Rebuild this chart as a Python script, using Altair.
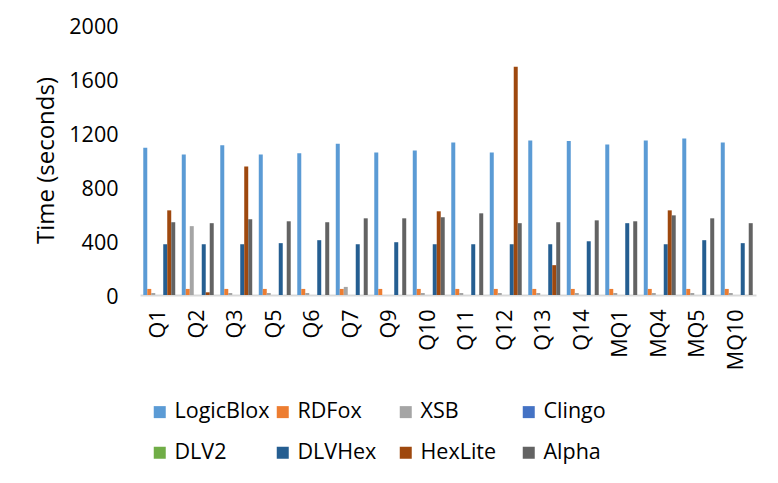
import altair as alt
import pandas as pd

queries = ["Q1", "Q2", "Q3", "Q5", "Q6", "Q7", "Q9", "Q10", "Q11", "Q12", "Q13", "Q14",
           "MQ1", "MQ4", "MQ5", "MQ10"]
systems = ["LogicBlox", "RDFox", "XSB", "Clingo", "DLV2", "DLVHex", "HexLite", "Alpha"]
colors = ["#5B9BD5", "#ED7D31", "#A5A5A5", "#4472C4", "#70AD47", "#255E91", "#9E480E", "#636363"]

logicblox = [1090, 1040, 1110, 1040, 1050, 1120, 1055, 1070, 1130, 1055, 1145, 1140, 1115, 1145, 1160, 1130]
rdfox = [45, 45, 45, 45, 45, 45, 45, 45, 45, 45, 45, 45, 45, 45, 45, 45]
xsb = [15, 510, 15, 15, 15, 60, 0, 15, 15, 15, 15, 15, 15, 15, 15, 15]
clingo = [0] * 16
dlv2 = [0] * 16
dlvhex = [376, 376, 376, 384, 406, 376, 391, 376, 376, 376, 376, 398, 532, 376, 406, 384]
hexlite = [627, 20, 952, 0, 0, 0, 0, 620, 0, 1690, 221, 0, 0, 627, 0, 0]
alpha = [539, 532, 561, 546, 539, 568, 568, 576, 605, 532, 539, 553, 546, 590, 568, 532]

series = [logicblox, rdfox, xsb, clingo, dlv2, dlvhex, hexlite, alpha]
rows = []
for s, vals in zip(systems, series):
    for q, v in zip(queries, vals):
        rows.append({"Query": q, "System": s, "Time": v})
df = pd.DataFrame(rows)

FONT = "Open Sans"
FS = 21.5

chart = alt.Chart(df).mark_bar().encode(
    x=alt.X("Query:N", sort=queries,
            scale=alt.Scale(paddingInner=0.17, paddingOuter=0.085),
            axis=alt.Axis(title=None, labelAngle=-90, labelFontSize=FS, labelFont=FONT,
                          labelColor="#000000", labelPadding=14, ticks=False,
                          domainColor="#D9D9D9", domainWidth=2)),
    xOffset=alt.XOffset("System:N", sort=systems, scale=alt.Scale(paddingInner=0, paddingOuter=0)),
    y=alt.Y("Time:Q", scale=alt.Scale(domain=[0, 2000], nice=False),
            axis=alt.Axis(values=[0, 400, 800, 1200, 1600, 2000], format="d",
                          title="Time (seconds)",
                          titleFontSize=24, titleFont=FONT, titleFontWeight="normal",
                          titleColor="#000000", titlePadding=10,
                          labelFontSize=FS, labelFont=FONT, labelColor="#000000",
                          labelPadding=22, labelOffset=2, domain=False, ticks=False, grid=False)),
    color=alt.Color("System:N", sort=systems,
                    scale=alt.Scale(domain=systems, range=colors),
                    legend=alt.Legend(title=None, orient="none", legendX=9, legendY=376,
                                      columns=4, direction="horizontal", gridAlign="all",
                                      symbolType="square", symbolSize=144, symbolStrokeWidth=0,
                                      labelFontSize=FS, labelFont=FONT, labelColor="#000000",
                                      labelOffset=4, columnPadding=2, rowPadding=18,
                                      labelLimit=200)),
).properties(
    width=616, height=270,
    autosize=alt.AutoSizeParams(type="none"),
    padding={"left": 132, "top": 17, "right": 14, "bottom": 180},
).configure(background="#FFFFFF").configure_view(stroke=None)

chart.save("out.html", embed_options={"renderer": "svg", "actions": False})
